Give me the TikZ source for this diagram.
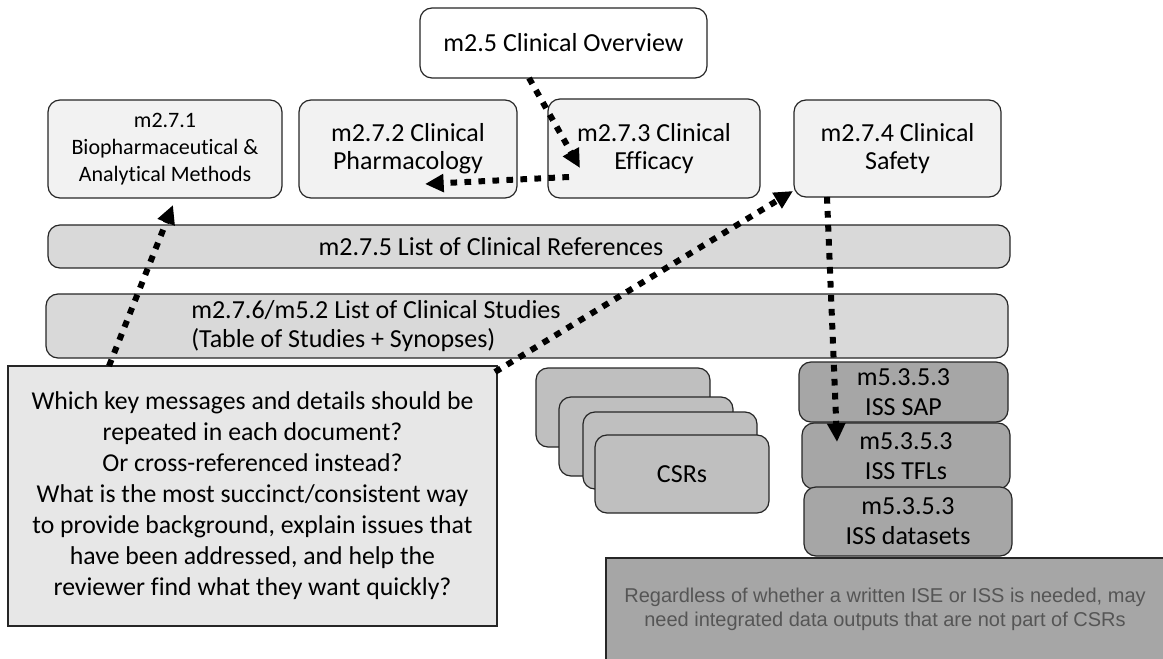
\documentclass[tikz,border=0pt]{standalone}
\usepackage{fontspec}
\setmainfont{Carlito}[Ligatures=NoCommon]
\newfontfamily\arialf{Liberation Sans}
\usetikzlibrary{arrows.meta,calc}
\definecolor{bxwhite}{HTML}{FFFFFF}
\definecolor{bxlight}{HTML}{F2F2F2}
\definecolor{bxband}{HTML}{D9D9D9}
\definecolor{bxquest}{HTML}{E7E7E7}
\definecolor{bxcsr}{HTML}{BFBFBF}
\definecolor{bxiss}{HTML}{A6A6A6}
\definecolor{bxtxt}{HTML}{555555}
\definecolor{bxline}{HTML}{262626}
\begin{document}
\begin{tikzpicture}[x=0.75pt,y=-0.75pt,
  sz/.style 2 args={minimum width=#1*0.75pt, minimum height=#2*0.75pt},
  rbox/.style={draw=bxline, line width=0.9pt, rounded corners=9pt, inner sep=0pt, align=center,
    font=\fontsize{19.5pt}{21pt}\selectfont},
  sbox/.style={draw=bxline, line width=1.2pt, inner sep=0pt, align=center},
  plain/.style={inner sep=0pt, align=center, font=\fontsize{19.5pt}{21pt}\selectfont},
  darr/.style={line width=4.5pt, dash pattern=on 5pt off 5.5pt,
    -{Triangle[length=14pt,width=13pt]}}
]
\useasboundingbox (0,0) rectangle (1163,659);
\clip (0,0) rectangle (1163,659);

% top boxes
\node[rbox, fill=bxwhite, sz={287}{70}] (m25) at (563.5,43) {m2.5 Clinical Overview};
\node[rbox, fill=bxlight, sz={234}{98}, font=\fontsize{16.5pt}{20pt}\selectfont] (m271) at (165,149)
  {m2.7.1\\Biopharmaceutical \&\\Analytical Methods};
\node[rbox, fill=bxlight, sz={218}{98}] (m272) at (408,149) {m2.7.2 Clinical\\Pharmacology};
\node[rbox, fill=bxlight, sz={212}{99}] (m273) at (654,148.5) {m2.7.3 Clinical\\Efficacy};
\node[rbox, fill=bxlight, sz={207}{97}] (m274) at (897.5,148.5) {m2.7.4 Clinical\\Safety};

% bands
\node[rbox, fill=bxband, sz={962}{43}] (m275) at (529,246.5) {};
\node[plain] (m275t) at (491,247) {m2.7.5 List of Clinical References};
\node[rbox, fill=bxband, sz={962}{64}] (m276) at (527,326) {};
\node[plain, anchor=west, align=left, font=\fontsize{19.5pt}{21.5pt}\selectfont] (m276t) at (191,326)
  {m2.7.6/m5.2 List of Clinical Studies\\(Table of Studies + Synopses)};

% CSR stack
\node[rbox, fill=bxcsr, sz={174}{79}] (csr1) at (623,407.5) {};
\node[rbox, fill=bxcsr, sz={174}{79}] (csr2) at (646,436.5) {};
\node[rbox, fill=bxcsr, sz={174}{77}] (csr3) at (670,450.5) {};
\node[rbox, fill=bxcsr, sz={174}{78}] (csr4) at (682,474) {CSRs};

% ISS boxes
\node[rbox, fill=bxiss, sz={209}{60}, font=\fontsize{19.5pt}{22.5pt}\selectfont] (sap) at (903.5,392) {m5.3.5.3\\ISS SAP};
\node[rbox, fill=bxiss, sz={208}{66}, font=\fontsize{19.5pt}{22.5pt}\selectfont] (tfl) at (906,456) {m5.3.5.3\\ISS TFLs};
\node[rbox, fill=bxiss, sz={208}{69}, font=\fontsize{19.5pt}{22.5pt}\selectfont] (dset) at (908,521.5) {m5.3.5.3\\ISS datasets};

% question box
\node[sbox, fill=bxquest, sz={489}{260}, font=\fontsize{19.3pt}{23.25pt}\selectfont] (quest) at (252.5,496)
  {Which key messages and details should be\\repeated in each document?\\Or cross-referenced instead?\\What is the most succinct/consistent way\\to provide background, explain issues that\\have been addressed, and help the\\reviewer find what they want quickly?};

% bottom-right note box
\node[sbox, fill=bxiss, sz={580}{120}, anchor=north west] (note) at (605,557) {};
\node[inner sep=0pt, align=center, text=bxtxt, font=\arialf\fontsize{15pt}{18pt}\selectfont] (notet) at (885,609)
  {Regardless of whether a written ISE or ISS is needed, may\\need integrated data outputs that are not part of CSRs};

% arrow end points
\coordinate (a1s) at (529,78);
\coordinate (a1e) at (580,168);
\coordinate (a2s) at (569,177);
\coordinate (a2e) at (425,184);
\coordinate (a3s) at (109,366);
\coordinate (a3e) at (173,205);
\coordinate (a4s) at (495,372);
\coordinate (a4e) at (793,191);
\coordinate (a5s) at (827,197);
\coordinate (a5e) at (837,442);

\draw[darr] (a1s) -- (a1e);
\draw[darr] (a2s) -- (a2e);
\draw[darr] (a3s) -- (a3e);
\draw[darr] (a4s) -- (a4e);
\draw[darr] (a5s) -- (a5e);
\end{tikzpicture}
\end{document}
